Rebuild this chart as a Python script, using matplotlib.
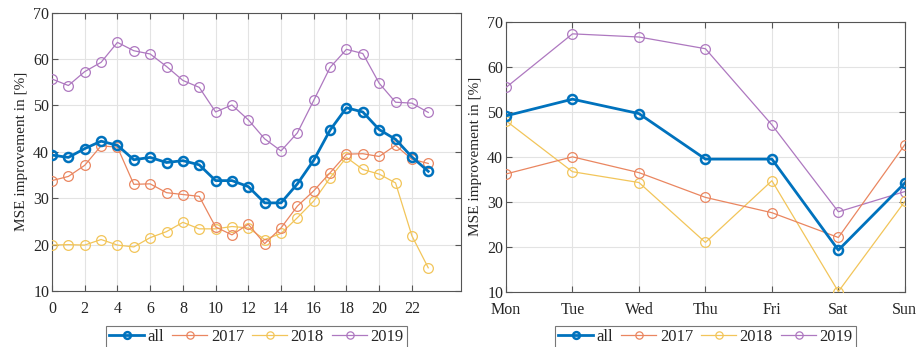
import matplotlib.pyplot as plt

plt.rcParams['font.family'] = ['Liberation Serif', 'DejaVu Serif']

# hourly MSE improvement [%]
hours = list(range(24))
hour_all = [39.3, 38.8, 40.7, 42.3, 41.4, 38.3, 38.8, 37.7, 38.1, 37.2, 33.8, 33.8,
            32.5, 29.0, 29.0, 33.1, 38.2, 44.7, 49.5, 48.6, 44.8, 42.7, 38.9, 35.8]
hour_2017 = [33.8, 34.7, 37.1, 41.3, 41.0, 33.0, 33.1, 31.2, 30.8, 30.4, 23.8, 22.1,
             24.4, 20.2, 23.6, 28.3, 31.6, 35.5, 39.5, 39.6, 39.0, 41.4, 38.4, 37.5]
hour_2018 = [19.9, 20.0, 19.9, 21.1, 19.9, 19.5, 21.5, 22.8, 24.8, 23.4, 23.4, 23.9,
             23.6, 21.1, 22.4, 25.8, 29.4, 34.4, 38.8, 36.2, 35.2, 33.3, 21.9, 15.0]
hour_2019 = [55.7, 54.3, 57.3, 59.3, 63.6, 61.8, 61.1, 58.4, 55.4, 53.9, 48.6, 50.1,
             46.9, 42.8, 40.2, 44.1, 51.1, 58.2, 62.1, 61.2, 54.8, 50.7, 50.5, 48.5]

# weekday MSE improvement [%]
days = ['Mon', 'Tue', 'Wed', 'Thu', 'Fri', 'Sat', 'Sun']
day_all = [49.1, 52.8, 49.6, 39.5, 39.5, 19.3, 34.2]
day_2017 = [36.2, 40.0, 36.5, 31.0, 27.6, 22.1, 42.7]
day_2018 = [48.0, 36.7, 34.3, 21.0, 34.7, 10.1, 30.1]
day_2019 = [55.4, 67.3, 66.6, 64.0, 47.1, 27.8, 32.3]

labels = ['all', '2017', '2018', '2019']
colors = ['#0072BD', '#EA8660', '#F2C55A', '#AE78C0']


def draw_series(ax, x, series):
    for i, (y, lab, c) in enumerate(zip(series, labels, colors)):
        if i == 0:
            ax.plot(x, y, '-o', color=c, lw=2, ms=6.5, mew=1.8, mfc='none',
                    label=lab, zorder=5)
        else:
            ax.plot(x, y, '-o', color=c, lw=0.9, ms=7, mew=0.9, mfc='none',
                    label=lab, zorder=4 - i * 0.1)


def style_axes(ax):
    ax.set_ylim(10, 70)
    ax.set_yticks(range(10, 71, 10))
    ax.grid(True, color='#e3e3e3', lw=0.8)
    ax.set_axisbelow(True)
    for s in ax.spines.values():
        s.set_color('#555555')
        s.set_linewidth(0.8)
    ax.tick_params(direction='in', top=True, right=True, length=4,
                   color='#555555', labelcolor='#262626', labelsize=11.5)
    ax.tick_params(axis='x', pad=7)
    ax.tick_params(axis='y', pad=2)
    ax.set_ylabel('MSE improvement in [%]', fontsize=11, color='#262626',
                  labelpad=4)
    leg = ax.legend(loc='upper center', bbox_to_anchor=(0.5, -0.125), ncol=4,
                    frameon=True, fancybox=False, fontsize=12,
                    handlelength=2.1, handletextpad=0.2, columnspacing=0.5,
                    borderpad=0.2, borderaxespad=0, markerscale=0.75)
    leg.get_frame().set_edgecolor('#555555')
    leg.get_frame().set_linewidth(0.8)
    for t in leg.get_texts():
        t.set_color('#262626')


fig = plt.figure(figsize=(9.19, 3.47), dpi=100)
ax1 = fig.add_axes([0.0566, 0.1614, 0.445, 0.802])
ax2 = fig.add_axes([0.5506, 0.1585, 0.434, 0.779])

draw_series(ax1, hours, [hour_all, hour_2017, hour_2018, hour_2019])
ax1.set_xlim(0, 25)
ax1.set_xticks(range(0, 23, 2))
style_axes(ax1)

draw_series(ax2, range(len(days)), [day_all, day_2017, day_2018, day_2019])
ax2.set_xlim(0, 6)
ax2.set_xticks(range(len(days)))
ax2.set_xticklabels(days)
style_axes(ax2)

fig.savefig('out.png', dpi=100)
